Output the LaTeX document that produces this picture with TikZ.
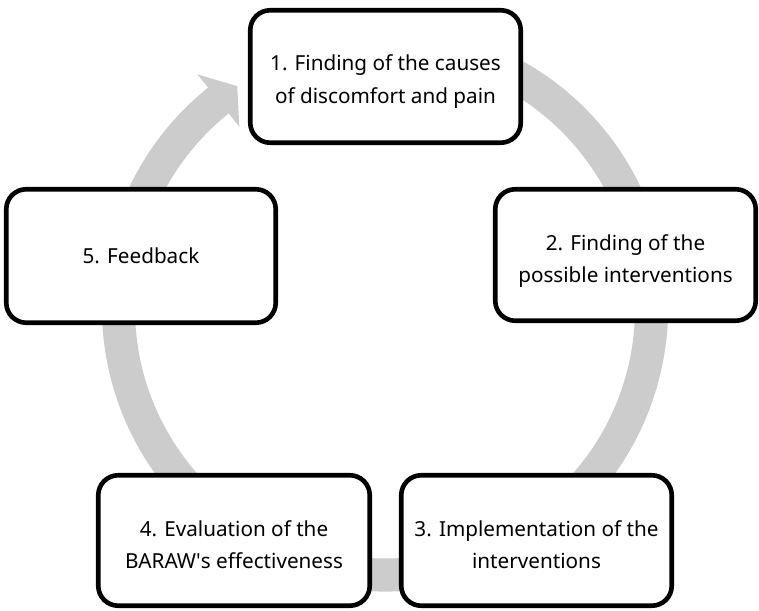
\documentclass[tikz,border=0pt]{standalone}
\usepackage{fontspec}
\setmainfont{Noto Sans}
\definecolor{ringgray}{RGB}{204,204,204}
\tikzset{
  stagebox/.style={draw=black, line width=4.6pt, fill=white, rounded corners=20pt, inner sep=0pt},
  stagetext/.style={align=center, inner sep=0pt, font=\fontsize{20.7}{32.5}\selectfont, text=black}
}
\begin{document}
\begin{tikzpicture}[x=1pt,y=1pt]
\useasboundingbox (0,0) rectangle (759,610);
% ring with arrow head
\coordinate (c) at (385,301.5);
\fill[ringgray]
  ([shift={(c)}]70:283) arc[start angle=70, end angle=-231.3, radius=283pt]
  -- ([shift={(c)}]-231.3:300)
  -- ([shift={(c)}]-236.4:267)
  -- ([shift={(c)}]-231.3:233)
  -- ([shift={(c)}]-231.3:250)
  arc[start angle=-231.3, end angle=70, radius=250pt] -- cycle;
% stages
\node[stagebox, minimum width=270.5pt, minimum height=132.5pt] (s1) at (385.5,533.5) {};
\node[stagebox, minimum width=260.5pt, minimum height=131.5pt] (s2) at (625.5,355) {};
\node[stagebox, minimum width=270.5pt, minimum height=130.5pt] (s3) at (536.5,69.5) {};
\node[stagebox, minimum width=271.5pt, minimum height=130.5pt] (s4) at (234,69.5) {};
\node[stagebox, minimum width=269.5pt, minimum height=133.5pt] (s5) at (141,354) {};
\node[stagetext] (t1) at ([yshift=-5pt]s1.center) {1. Finding of the causes\\of discomfort and pain};
\node[stagetext] (t2) at ([yshift=-6pt]s2.center) {2. Finding of the\\possible interventions};
\node[stagetext] (t3) at ([yshift=-4pt]s3.center) {3. Implementation of the\\interventions};
\node[stagetext] (t4) at ([yshift=-4pt]s4.center) {4. Evaluation of the\\BARAW\textquotesingle s effectiveness};
\node[stagetext] (t5) at (s5.center) {5. Feedback};
\end{tikzpicture}
\end{document}
